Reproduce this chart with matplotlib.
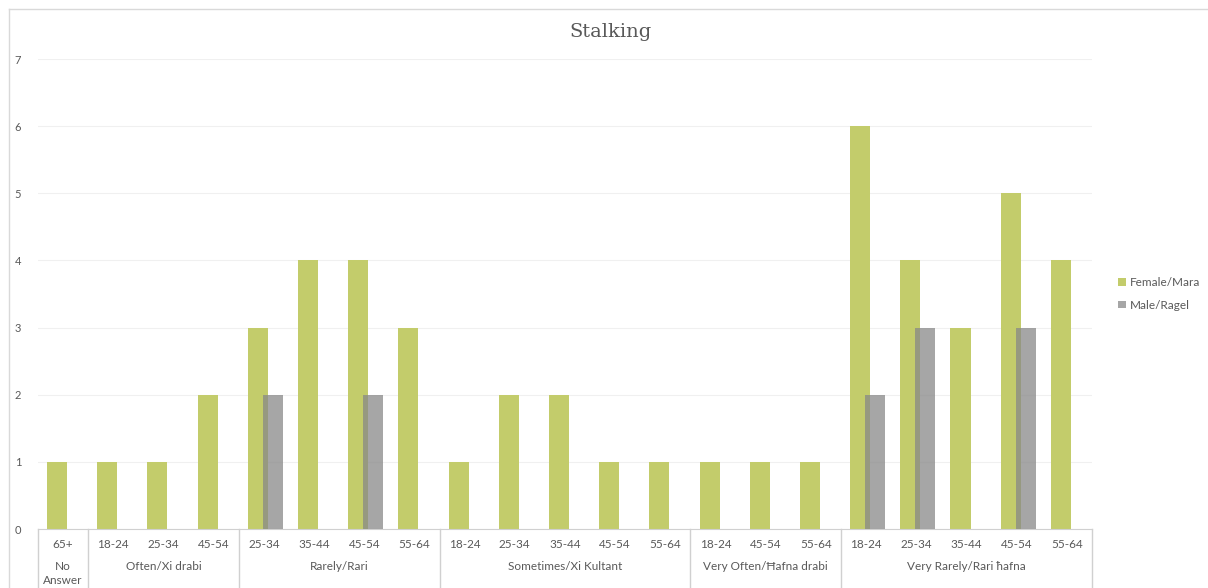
import numpy as np
import matplotlib
matplotlib.use('Agg')
import matplotlib.pyplot as plt
from matplotlib.lines import Line2D

# dados do grafico
groups = ['No\nAnswer', 'Often/Xi drabi', 'Rarely/Rari', 'Sometimes/Xi Kultant',
          'Very Often/Ħafna drabi', 'Very Rarely/Rari ħafna']
group_sizes = [1, 3, 4, 5, 3, 5]
ages = ['65+',
        '18-24', '25-34', '45-54',
        '25-34', '35-44', '45-54', '55-64',
        '18-24', '25-34', '35-44', '45-54', '55-64',
        '18-24', '45-54', '55-64',
        '18-24', '25-34', '35-44', '45-54', '55-64']
female = [1,
          1, 1, 2,
          3, 4, 4, 3,
          1, 2, 2, 1, 1,
          1, 1, 1,
          6, 4, 3, 5, 4]
male = [0,
        0, 0, 0,
        2, 0, 2, 0,
        0, 0, 0, 0, 0,
        0, 0, 0,
        2, 3, 0, 3, 0]

plt.rcParams['font.family'] = ['Lato', 'DejaVu Sans']

fig = plt.figure(figsize=(12.08, 5.88), dpi=100)
ax = fig.add_axes([38/1208, 1-529/588, (1092-38)/1208, 470/588])

x = np.arange(len(ages))
ax.bar(x - 0.12, female, width=0.4, color='#c3cc6b', label='Female/Mara', zorder=2)
ax.bar(x + 0.18, male, width=0.4, color='#888888', alpha=0.75, label='Male/Ragel', zorder=3)

ax.set_xlim(-0.5, len(ages) - 0.5)
ax.set_ylim(0, 7)
ax.set_yticks(range(0, 8))
ax.tick_params(axis='y', length=0, labelsize=8, labelcolor='#595959', pad=12)
ax.set_xticks([])
for s in ['top', 'right', 'left']:
    ax.spines[s].set_visible(False)
ax.spines['bottom'].set_color('#d0d0d0')
ax.grid(axis='y', color='#f0f0f0', linewidth=0.8, zorder=0)

# rotulos das idades
for i, a in enumerate(ages):
    ax.text(i, -0.034, a, transform=ax.get_xaxis_transform(), ha='center', va='center',
            fontsize=8.5, color='#595959')

# rotulos dos grupos e separadores
ybot = -0.1255
start = 0
bounds = [-0.5]
for g, n in zip(groups, group_sizes):
    mid = start + (n - 1) / 2
    if '\n' in g:
        ax.text(mid, -0.079, 'No', transform=ax.get_xaxis_transform(), ha='center',
                va='center', fontsize=8.5, color='#595959')
        ax.text(mid, -0.109, 'Answer', transform=ax.get_xaxis_transform(), ha='center',
                va='center', fontsize=8.5, color='#595959')
    else:
        ax.text(mid, -0.079, g, transform=ax.get_xaxis_transform(), ha='center',
                va='center', fontsize=8.5, color='#595959')
    start += n
    bounds.append(start - 0.5)
for b in bounds:
    ax.plot([b, b], [0, ybot], transform=ax.get_xaxis_transform(), color='#d0d0d0',
            linewidth=1, clip_on=False)

# titulo centrado na area do grafico inteiro
fig.text(611/1208, 1-32/588, 'Stalking', fontsize=14, color='#595959',
         family='DejaVu Serif', ha='center', va='center')

ax.legend(loc='center left', bbox_to_anchor=(1.015, 0.5), frameon=False, fontsize=8.5,
          labelcolor='#595959', handlelength=0.6, handleheight=0.6, handletextpad=0.4,
          labelspacing=1.0)

# moldura do grafico
fig.add_artist(Line2D([9/1208, 1], [1-9/588, 1-9/588], color='#d9d9d9', linewidth=1))
fig.add_artist(Line2D([9/1208, 9/1208], [0, 1-9/588], color='#d9d9d9', linewidth=1))

fig.savefig('out.png', dpi=100)
